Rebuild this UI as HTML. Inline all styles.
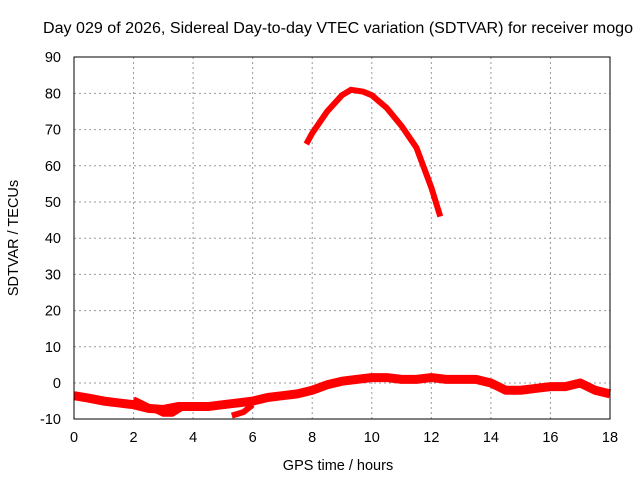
<!DOCTYPE html>
<html><head><meta charset="utf-8"><style>
body{margin:0;background:#fff}
svg{display:block;font-family:"Liberation Sans",sans-serif}
</style></head><body>
<svg width="640" height="480">
<text x="338" y="33" font-size="15.5" text-anchor="middle" textLength="590" lengthAdjust="spacingAndGlyphs">Day 029 of 2026, Sidereal Day-to-day VTEC variation (SDTVAR) for receiver mogo</text>
<g id="grid"></g><g id="ticks"></g><g id="series"></g>
<rect x="74" y="57" width="536" height="362" fill="none" stroke="#000" stroke-width="1"/>
<text x="338" y="470" font-size="14.5" text-anchor="middle">GPS time / hours</text>
<text x="0" y="0" font-size="14.5" text-anchor="middle" transform="translate(18,238) rotate(-90)">SDTVAR / TECUs</text>
</svg>
<script>
const xTicks=[0,2,4,6,8,10,12,14,16,18];
const yTicks=[-10,0,10,20,30,40,50,60,70,80,90];
const upperHours=[7.8,8,8.5,9,9.3,9.7,10,10.5,11,11.5,12,12.3];
const upperValues=[66,69,75,79.5,81,80.5,79.5,76,71,65,54,46];
const lowerHours=[0,0.5,1,1.5,2,2.5,3,3.5,4,4.5,5,5.5,6,6.5,7,7.5,8,8.5,9,9.5,10,10.5,11,11.5,12,12.5,13,13.5,14,14.5,15,15.5,16,16.5,17,17.5,18];
const lowerValues=[-3.5,-4.2,-5,-5.5,-6,-7,-7.3,-6.5,-6.5,-6.5,-6,-5.5,-5,-4,-3.5,-3,-2,-0.5,0.5,1,1.5,1.5,1,1,1.5,1,1,1,0,-2,-2,-1.5,-1,-1,0,-2,-3];
const branchHours=[2,2.5,3,3.3,3.6];
const branchValues=[-4.5,-6.5,-8.5,-8.5,-7];
const branch2Hours=[5.3,5.7,6];
const branch2Values=[-9,-8,-6];
const X=h=>74+h*(536/18);
const Y=v=>383-v*3.62;
const NS="http://www.w3.org/2000/svg";
const grid=document.getElementById('grid'),ticks=document.getElementById('ticks'),ser=document.getElementById('series');
function mk(t,a,p){const e=document.createElementNS(NS,t);for(const k in a)e.setAttribute(k,a[k]);p.appendChild(e);return e;}
xTicks.forEach(t=>{
 if(t>0&&t<18){const g=mk('line',{x1:X(t),x2:X(t),y1:57,y2:419,stroke:'#999','stroke-dasharray':'2,3'},grid);
 
 }
 const l=mk('text',{x:X(t),y:442,'font-size':14.5,'text-anchor':'middle'},ticks);l.textContent=t;
 
 
});
yTicks.forEach(t=>{
 if(t>-10&&t<90){const g=mk('line',{x1:74,x2:610,y1:Y(t),y2:Y(t),stroke:'#999','stroke-dasharray':'2,3'},grid);
 
 }
 const l=mk('text',{x:61,y:Y(t)+5,'font-size':14.5,'text-anchor':'end'},ticks);l.textContent=t;
 
 
});
function line(hs,vs,w,name){
 const p=mk('polyline',{points:hs.map((h,i)=>X(h)+','+Y(vs[i])).join(' '),fill:'none',stroke:'#f00','stroke-width':w,'stroke-linejoin':'round'},ser);
 
 
}
line(lowerHours,lowerValues,9,'sdtvar-lower-series');
line(branchHours,branchValues,6,'sdtvar-lower-branch');
line(branch2Hours,branch2Values,6,'sdtvar-lower-branch-2');
line(upperHours,upperValues,6,'sdtvar-upper-series');
</script>
</body></html>
